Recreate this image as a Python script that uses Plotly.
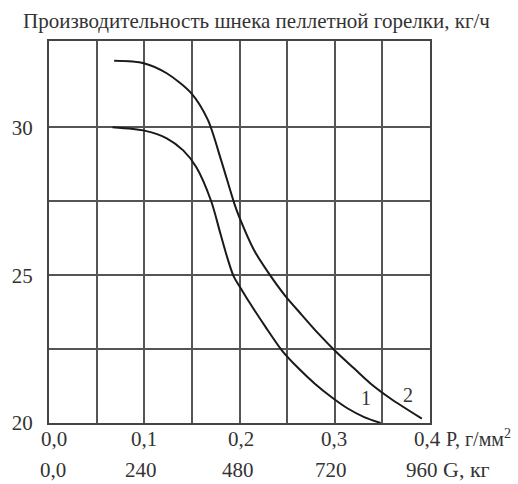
import plotly.graph_objects as go

# Curve 1
p1 = [0.0666, 0.1012, 0.1236, 0.1409, 0.1547, 0.1703, 0.1800, 0.1876, 0.1940, 0.2020, 0.2100, 0.2273, 0.2446, 0.2619, 0.2791, 0.2964, 0.3137, 0.3309, 0.3482]
q1 = [30.00, 29.88, 29.63, 29.22, 28.65, 27.50, 26.40, 25.55, 24.95, 24.52, 24.10, 23.25, 22.45, 21.85, 21.33, 20.88, 20.49, 20.20, 20.00]
# Curve 2
p2 = [0.0684, 0.0995, 0.1236, 0.1495, 0.1668, 0.1806, 0.1945, 0.1997, 0.2152, 0.2308, 0.2480, 0.2653, 0.2826, 0.3016, 0.3205, 0.3378, 0.3585, 0.3914]
q2 = [32.25, 32.17, 31.83, 31.15, 30.25, 28.90, 27.43, 26.97, 25.85, 25.06, 24.30, 23.66, 23.03, 22.40, 21.84, 21.33, 20.83, 20.15]

p_ticks = [0.0, 0.1, 0.2, 0.3, 0.4]
p_labels = ["0,0", "0,1", "0,2", "0,3", "0,4"]
g_labels = ["0,0", "240", "480", "720", "960"]
y_ticks = [20, 25, 30]
y_labels = ["20", "25", "30"]
y_minor = [22.5, 27.5]

title = "Производительность шнека пеллетной горелки, кг/ч"
FONT = "Liberation Serif, Times New Roman, serif"
TXT = "#333333"
GRID = "#555555"

fig = go.Figure()
fig.add_trace(go.Scatter(x=p1, y=q1, mode="lines", line=dict(color="#1a1a1a", width=2, shape="spline", smoothing=0.8), showlegend=False))
fig.add_trace(go.Scatter(x=p2, y=q2, mode="lines", line=dict(color="#1a1a1a", width=2, shape="spline", smoothing=0.8), showlegend=False))

row1_shift = [5, 0, 1, -1, -3]
row2_shift = [4, -3, -2, -4, -8]
ann = []
for xv, t1, t2, s1, s2 in zip(p_ticks, p_labels, g_labels, row1_shift, row2_shift):
    ann.append(dict(x=xv, y=0, xref="x", yref="paper", text=t1, showarrow=False,
                    yanchor="middle", yshift=-16, xshift=s1, font=dict(family=FONT, size=21, color=TXT)))
    ann.append(dict(x=xv, y=0, xref="x", yref="paper", text=t2, showarrow=False,
                    yanchor="bottom", yshift=-61, xshift=s2, font=dict(family=FONT, size=21, color=TXT)))
ann.append(dict(x=0.4, y=0, xref="x", yref="paper", text="P, г/мм<sup>2</sup>", showarrow=False,
                xanchor="left", yanchor="middle", yshift=-15, xshift=14, font=dict(family=FONT, size=20, color=TXT)))
ann.append(dict(x=0.4, y=0, xref="x", yref="paper", text="G, кг", showarrow=False,
                xanchor="left", yanchor="bottom", yshift=-61, xshift=11, font=dict(family=FONT, size=22, color=TXT)))
ann.append(dict(x=0.3325, y=20.85, xref="x", yref="y", text="1", showarrow=False,
                font=dict(family=FONT, size=20, color=TXT)))
ann.append(dict(x=0.377, y=20.95, xref="x", yref="y", text="2", showarrow=False,
                font=dict(family=FONT, size=20, color=TXT)))
ann.append(dict(x=0.0, y=1, xref="paper", yref="paper", text=title, showarrow=False,
                xanchor="left", yanchor="middle", xshift=-28, yshift=20, font=dict(family=FONT, size=21, color=TXT)))

fig.update_layout(
    width=518, height=484,
    margin=dict(l=44, r=88, t=41, b=61),
    paper_bgcolor="white", plot_bgcolor="white",
    annotations=ann,
    xaxis=dict(range=[0, 0.4], dtick=0.05, tick0=0, showgrid=True, gridcolor=GRID, gridwidth=1.5,
               showticklabels=False, ticks="", zeroline=False,
               showline=True, linecolor="#444444", linewidth=2, mirror=True),
    yaxis=dict(range=[20, 32.92], tickvals=y_ticks, ticktext=y_labels, showgrid=True, gridcolor=GRID, gridwidth=1.5,
               minor=dict(tickvals=y_minor, showgrid=True, gridcolor=GRID, gridwidth=1.5, ticks=""),
               ticks="", zeroline=False, tickfont=dict(family=FONT, size=21, color=TXT), ticklabelstandoff=10,
               showline=True, linecolor="#444444", linewidth=2, mirror=True),
)
fig.write_html("out.html")
